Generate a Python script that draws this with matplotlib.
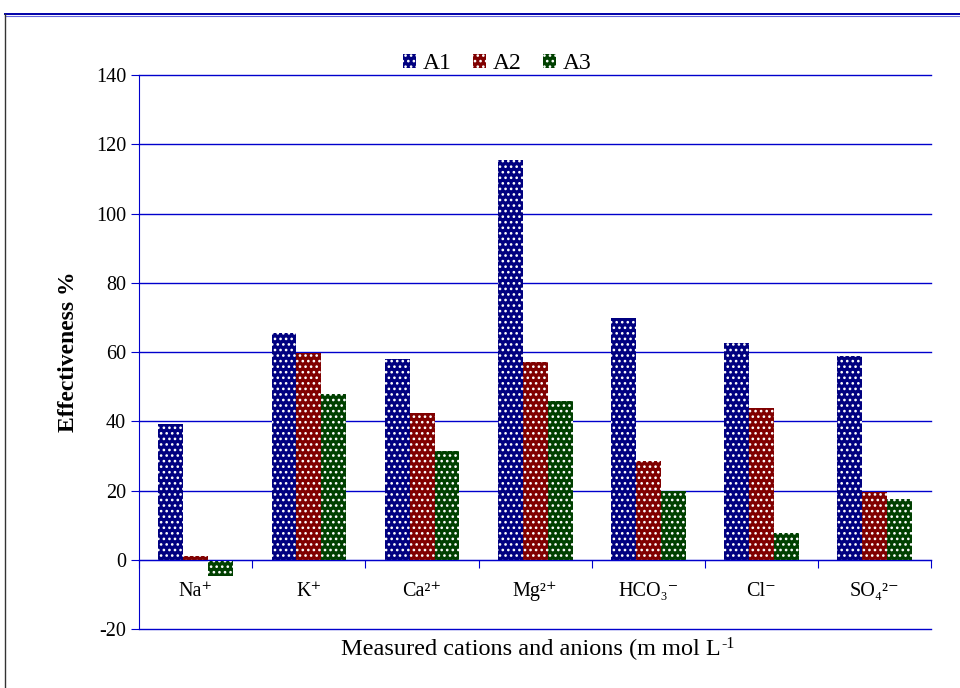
import numpy as np
import matplotlib
matplotlib.use("Agg")
import matplotlib.pyplot as plt
from matplotlib.lines import Line2D
from matplotlib.patches import Patch

plt.rcParams["font.family"] = ["Liberation Serif", "DejaVu Serif"]
plt.rcParams["axes.unicode_minus"] = False
plt.rcParams["hatch.linewidth"] = 1.1

IONS = ["Na⁺", "K⁺", "Ca²⁺", "Mg²⁺", "HCO₃⁻", "Cl⁻", "SO₄²⁻"]
A1 = [39.2, 65.5, 58.0, 115.5, 69.8, 62.6, 59.0]
A2 = [1.0, 59.7, 42.3, 57.0, 28.5, 43.8, 19.5]
A3 = [-4.6, 48.0, 31.3, 46.0, 19.8, 7.6, 17.5]
SERIES = ["A1", "A2", "A3"]

COLORS = ["#000080", "#800000", "#004000"]
BLUE = "#0000CC"
HATCH = "..."


def main():
    fig = plt.figure(figsize=(9.6, 6.88), dpi=100)
    ax = fig.add_axes([0.145, 0.0858, 0.825, 0.805])

    x = np.arange(len(IONS))
    w = 0.22
    for i, (vals, c) in enumerate(zip((A1, A2, A3), COLORS)):
        ax.bar(x + (i - 1) * w, vals, w, color=c, edgecolor="white",
               hatch=HATCH, linewidth=0, zorder=3)

    ax.set_xlim(-0.5, len(IONS) - 0.5)
    ax.set_ylim(-20, 140)
    ax.set_yticks(np.arange(-20, 141, 20))
    for yv in np.arange(-20, 141, 20):
        ax.axhline(yv, color=BLUE, lw=1.0, zorder=1, clip_on=False)

    # category axis drawn on the zero line
    ax.spines["bottom"].set_position(("data", 0))
    ax.spines["bottom"].set_color(BLUE)
    ax.spines["bottom"].set_zorder(4)
    ax.spines["left"].set_color(BLUE)
    ax.spines["top"].set_visible(False)
    ax.spines["right"].set_visible(False)
    ax.set_xticks(np.arange(-0.5, len(IONS), 1.0))
    ax.set_xticklabels([])
    ax.set_xticks(x, minor=True)
    ax.set_xticklabels(IONS, minor=True, fontsize=14.5)
    ax.tick_params(axis="x", which="major", direction="out", length=6, color=BLUE)
    ax.tick_params(axis="x", which="minor", length=0, pad=16)
    ax.tick_params(axis="y", direction="out", length=6, color=BLUE, labelsize=14.5)

    ax.set_ylabel("Effectiveness %", fontsize=17, fontweight="bold", labelpad=12)
    xl = ax.text(0.495, -0.017, "Measured cations and anions (m mol L",
                 transform=ax.transAxes, ha="center", va="top", fontsize=17.5)
    ax.annotate("-1", xy=(1, 1), xycoords=xl, xytext=(0.5, 2),
                textcoords="offset points", ha="left", va="top", fontsize=11.5)

    handles = [Patch(facecolor=c, edgecolor="white", hatch=HATCH, linewidth=0)
               for c in COLORS]
    ax.legend(handles, SERIES, loc="lower center", bbox_to_anchor=(0.452, 0.985),
              ncol=3, frameon=False, fontsize=17, handlelength=0.55,
              handleheight=0.55, handletextpad=0.3, columnspacing=0.9,
              borderaxespad=0)

    # outer frame
    fig.add_artist(Line2D([0.0055, 1.0], [0.980, 0.980], color="#0000AA", lw=1.4))
    fig.add_artist(Line2D([0.0055, 1.0], [0.977, 0.977], color="#6666DD", lw=0.8))
    fig.add_artist(Line2D([0.0055, 0.0055], [0.0, 0.980], color="#333333", lw=1.0))

    fig.savefig("out.png", dpi=100)
    plt.close(fig)


if __name__ == "__main__":
    main()
